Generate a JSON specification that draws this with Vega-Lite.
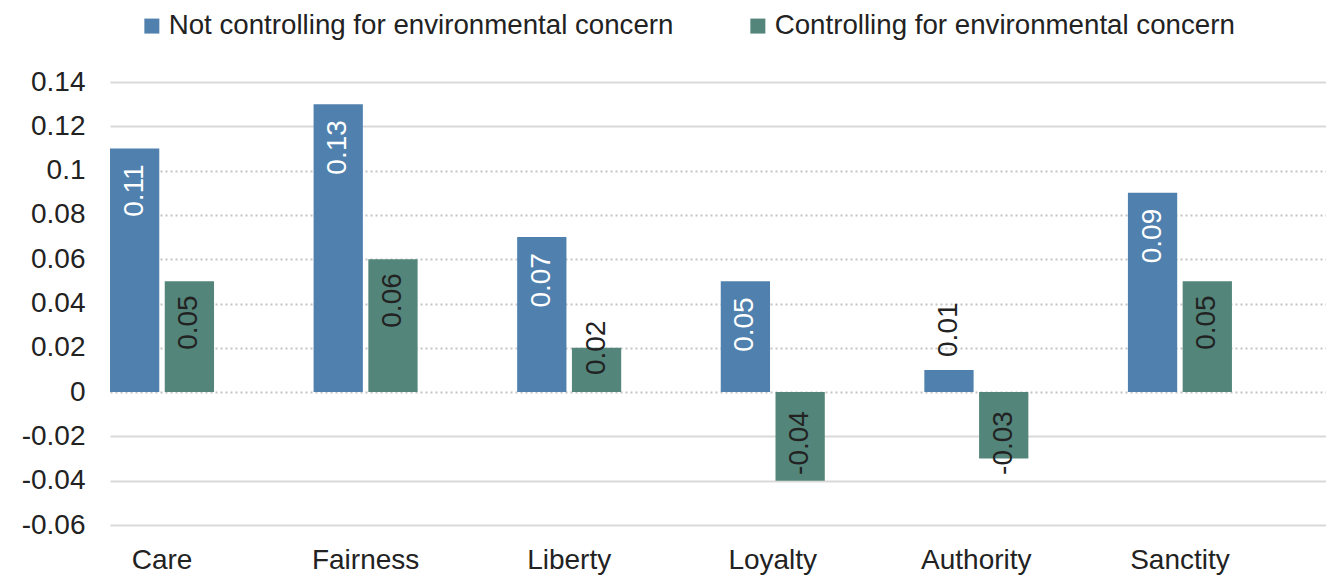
{
  "$schema": "https://vega.github.io/schema/vega-lite/v6.json",
  "width": 1216,
  "height": 443,
  "autosize": "none",
  "padding": {"left": 110, "top": 82, "right": 0, "bottom": 53},
  "background": "white",
  "config": {
    "font": "Liberation Sans",
    "view": {"stroke": null},
    "axis": {"labelFont": "Liberation Sans", "labelColor": "#222222"},
    "legend": {"labelFont": "Liberation Sans"}
  },
  "data": {
    "values": [
      {"category": "Care", "series": "Not controlling for environmental concern", "value": 0.11},
      {"category": "Care", "series": "Controlling for environmental concern", "value": 0.05},
      {"category": "Fairness", "series": "Not controlling for environmental concern", "value": 0.13},
      {"category": "Fairness", "series": "Controlling for environmental concern", "value": 0.06},
      {"category": "Liberty", "series": "Not controlling for environmental concern", "value": 0.07},
      {"category": "Liberty", "series": "Controlling for environmental concern", "value": 0.02},
      {"category": "Loyalty", "series": "Not controlling for environmental concern", "value": 0.05},
      {"category": "Loyalty", "series": "Controlling for environmental concern", "value": -0.04},
      {"category": "Authority", "series": "Not controlling for environmental concern", "value": 0.01},
      {"category": "Authority", "series": "Controlling for environmental concern", "value": -0.03},
      {"category": "Sanctity", "series": "Not controlling for environmental concern", "value": 0.09},
      {"category": "Sanctity", "series": "Controlling for environmental concern", "value": 0.05}
    ]
  },
  "transform": [
    {"calculate": "replace(format(datum.value, '.2f'), '\u2212', '-')", "as": "label"}
  ],
  "encoding": {
    "x": {
      "field": "category",
      "type": "nominal",
      "sort": ["Care", "Fairness", "Liberty", "Loyalty", "Authority", "Sanctity"],
      "scale": {"paddingInner": 0.489, "paddingOuter": 0.231, "align": 0},
      "axis": {
        "title": null,
        "labelAngle": 0,
        "labelFontSize": 28,
        "labelPadding": 21,
        "ticks": false,
        "domain": false,
        "grid": false
      }
    },
    "xOffset": {
      "field": "series",
      "type": "nominal",
      "sort": ["Not controlling for environmental concern", "Controlling for environmental concern"],
      "scale": {"paddingInner": 0.1}
    },
    "y": {
      "field": "value",
      "type": "quantitative",
      "scale": {"domain": [-0.06, 0.14], "nice": false, "zero": false},
      "axis": {
        "title": null,
        "values": [-0.06, -0.04, -0.02, 0, 0.02, 0.04, 0.06, 0.08, 0.1, 0.12, 0.14],
        "labelExpr": "replace(format(datum.value, '.2~f'), '\u2212', '-')",
        "labelFontSize": 28,
        "labelPadding": 25,
        "ticks": false,
        "domain": false,
        "grid": true,
        "gridColor": {"condition": {"test": "datum.value >= -0.001 && datum.value <= 0.101", "value": "#c4c4c4"}, "value": "#d9d9d9"},
        "gridWidth": 2,
        "gridDash": {"condition": {"test": "datum.value >= -0.001 && datum.value <= 0.101", "value": [2, 3]}, "value": []}
      }
    }
  },
  "layer": [
    {
      "mark": {"type": "bar"},
      "encoding": {
        "color": {
          "field": "series",
          "type": "nominal",
          "scale": {
            "domain": ["Not controlling for environmental concern", "Controlling for environmental concern"],
            "range": ["#4f80ae", "#53857a"]
          },
          "legend": {
            "title": null,
            "orient": "none",
            "direction": "horizontal",
            "legendX": 28,
            "legendY": -70,
            "padding": 0,
            "symbolType": "square",
            "symbolSize": 225,
            "symbolStrokeWidth": 0,
            "labelFontSize": 27.7,
            "labelColor": "#222222",
            "labelOffset": 3,
            "labelLimit": 800,
            "columnPadding": 70
          }
        }
      }
    },
    {
      "transform": [{"filter": "datum.series == 'Not controlling for environmental concern' && datum.value >= 0.03"}],
      "mark": {"type": "text", "angle": -90, "align": "right", "baseline": "middle", "dx": -16, "fontSize": 28, "color": "white"},
      "encoding": {"text": {"field": "label", "type": "nominal"}}
    },
    {
      "transform": [{"filter": "datum.series == 'Not controlling for environmental concern' && datum.value < 0.03 && datum.value > 0"}],
      "mark": {"type": "text", "angle": -90, "align": "left", "baseline": "middle", "dx": 13, "fontSize": 28, "color": "#222222"},
      "encoding": {"text": {"field": "label", "type": "nominal"}}
    },
    {
      "transform": [{"filter": "datum.series == 'Controlling for environmental concern' && datum.value >= 0.03"}],
      "mark": {"type": "text", "angle": -90, "align": "right", "baseline": "middle", "dx": -14, "fontSize": 28, "color": "#222222"},
      "encoding": {"text": {"field": "label", "type": "nominal"}}
    },
    {
      "transform": [{"filter": "datum.series == 'Controlling for environmental concern' && datum.value < 0.03 && datum.value > 0"}],
      "mark": {"type": "text", "angle": -90, "align": "center", "baseline": "middle", "dx": 0, "fontSize": 28, "color": "#222222"},
      "encoding": {"text": {"field": "label", "type": "nominal"}}
    },
    {
      "transform": [{"filter": "datum.value < 0"}],
      "mark": {"type": "text", "angle": -90, "align": "right", "baseline": "middle", "dx": -19, "fontSize": 28, "color": "#222222"},
      "encoding": {
        "y": {"datum": 0, "type": "quantitative"},
        "text": {"field": "label", "type": "nominal"}
      }
    }
  ]
}
